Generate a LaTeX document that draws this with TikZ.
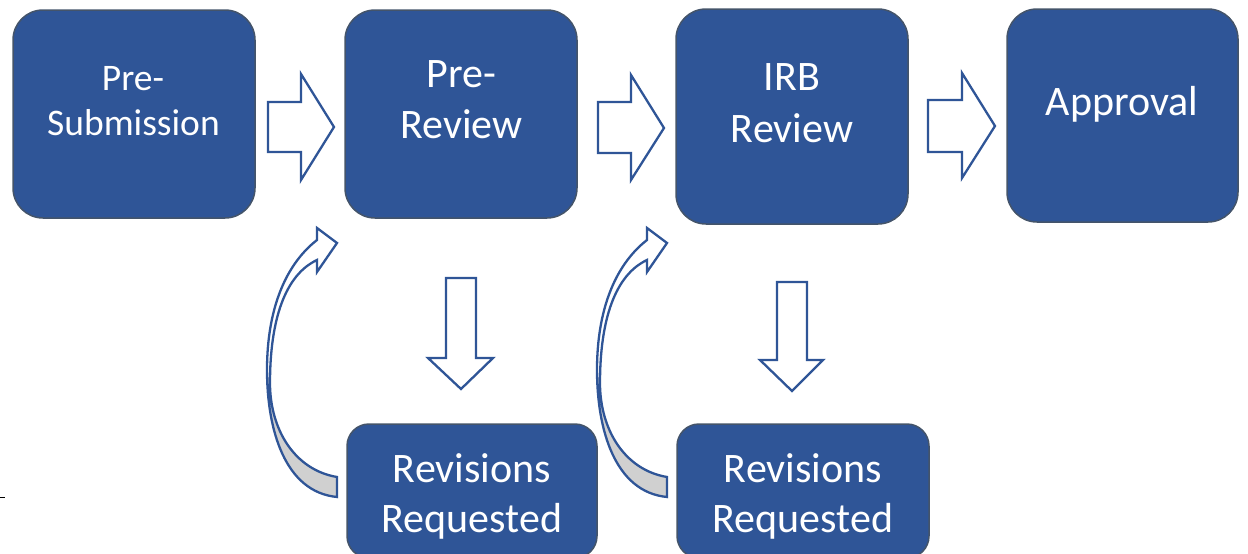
\documentclass[tikz,border=0pt]{standalone}
\usepackage{fontspec}
\setmainfont{Carlito}
\definecolor{boxblue}{HTML}{2F5597}
\definecolor{boxline}{HTML}{44546A}
\definecolor{arrowblue}{HTML}{2F5597}
\definecolor{backgray}{HTML}{D0D0D0}
\tikzset{
  stagebox/.style={draw=boxline, line width=1.5pt, fill=boxblue, rounded corners=30pt, inner sep=0pt},
  revbox/.style={stagebox, rounded corners=22pt},
  lbl/.style={text=white, anchor=base, inner sep=0pt, font=\fontsize{42}{50}\selectfont},
  lblsmall/.style={lbl, font=\fontsize{37.5}{45}\selectfont},
  blockarrow/.style={draw=arrowblue, line width=2.3pt, fill=white, line join=miter},
  curvedarrow/.pic={
    \fill[white] (337,497) .. controls (285,492) and (267,430) .. (267,370)
      .. controls (267,310) and (285,265) .. (317,240) -- (317,228) -- (337,243) -- (317,272) -- (317,260)
      .. controls (285,275) and (270,320) .. (270,383) .. controls (270,430) and (295,470) .. (337,477) -- cycle;
    \begin{scope}
      \clip (200,378) rectangle (400,560);
      \fill[backgray] (337,497) .. controls (285,492) and (267,430) .. (267,370)
        .. controls (267,310) and (285,265) .. (317,240) -- (317,228) -- (337,243) -- (317,272) -- (317,260)
        .. controls (285,275) and (270,320) .. (270,383) .. controls (270,430) and (295,470) .. (337,477) -- cycle;
    \end{scope}
    \draw[draw=arrowblue, line width=2.3pt, line join=miter] (337,497) .. controls (285,492) and (267,430) .. (267,370)
      .. controls (267,310) and (285,265) .. (317,240) -- (317,228) -- (337,243) -- (317,272) -- (317,260)
      .. controls (285,275) and (270,320) .. (270,383) .. controls (270,430) and (295,470) .. (337,477) -- cycle;
  }
}
\begin{document}
\begin{tikzpicture}[x=1pt,y=-1pt]
\useasboundingbox (0,0) rectangle (1248,554);
\clip (0,0) rectangle (1248,554);

% stage boxes
\node[stagebox, minimum width=242pt, minimum height=208pt] (presub) at (134,114) {};
\node[stagebox, minimum width=232pt, minimum height=208pt] (prerev) at (461,114) {};
\node[stagebox, minimum width=232pt, minimum height=215pt] (irb) at (792,116.5) {};
\node[stagebox, minimum width=231pt, minimum height=213pt] (appr) at (1122.5,115.5) {};
\node[revbox, minimum width=250pt, minimum height=134pt] (rev1) at (472,491) {};
\node[revbox, minimum width=252pt, minimum height=134pt] (rev2) at (803,491) {};

% labels
\node[lblsmall] (presubA) at (133,90) {Pre-};
\node[lblsmall] (presubB) at (133.5,135) {Submission};
\node[lbl] (prerevA) at (461.5,87) {Pre-};
\node[lbl] (prerevB) at (461.5,138) {Review};
\node[lbl] (irbA) at (792,90) {IRB};
\node[lbl] (irbB) at (792,142) {Review};
\node[lbl] (apprA) at (1122,115) {Approval};
\node[lbl] (rev1A) at (472,482) {Revisions};
\node[lbl] (rev1B) at (472,532) {Requested};
\node[lbl] (rev2A) at (803,482) {Revisions};
\node[lbl] (rev2B) at (803,532) {Requested};

% block arrows right
\draw[blockarrow] (268,102) -- (301,102) -- (301,74) -- (334,127) -- (301,180) -- (301,152) -- (268,152) -- cycle;
\draw[blockarrow] (598,102) -- (631,102) -- (631,75) -- (664,128) -- (631,180) -- (631,153) -- (598,153) -- cycle;
\draw[blockarrow] (928,100) -- (962,100) -- (962,73) -- (995,126) -- (962,178) -- (962,152) -- (928,152) -- cycle;

% block arrows down
\draw[blockarrow] (446,278) -- (476,278) -- (476,358) -- (493,358) -- (461,389) -- (428,358) -- (446,358) -- cycle;
\draw[blockarrow] (777,282) -- (807,282) -- (807,360) -- (823,360) -- (792,391) -- (760,360) -- (777,360) -- cycle;

% curved return arrows
\pic (ca1) at (0,0) {curvedarrow};
\pic (ca2) at (330,0) {curvedarrow};

% small mark at left edge
\draw[black, line width=1pt] (0,497) -- (5,497);
\end{tikzpicture}
\end{document}
